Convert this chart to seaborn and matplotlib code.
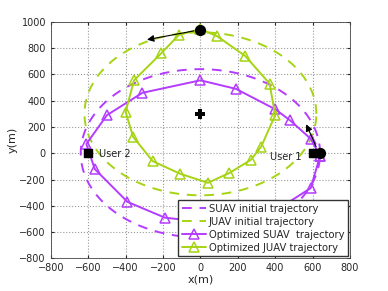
import numpy as np
import pandas as pd
import seaborn as sns
import matplotlib
matplotlib.use("Agg")
import matplotlib.pyplot as plt

# initial circular trajectories (center x, center y, radius)
suav_init = (0, 0, 640)
juav_init = (0, 300, 620)

# optimized trajectories
suav_x = [640, 590, 480, 400, 190, 0, -310, -500, -610, -565, -390, -190, 0, 220, 420, 590, 640]
suav_y = [-20, 110, 250, 335, 490, 555, 460, 290, 70, -120, -370, -490, -520, -500, -420, -265, -20]
juav_x = [0, 90, 240, 370, 400, 325, 270, 155, 40, -110, -255, -360, -400, -355, -210, -115, 0]
juav_y = [945, 890, 740, 530, 290, 50, -50, -150, -225, -155, -60, 125, 315, 555, 760, 900, 945]

users_x = [600, -600]
users_y = [0, 0]
user_names = ["User 1", "User 2"]
start_x = [640, 0]
start_y = [0, 940]

purple = "#b43cff"
green = "#a6d414"

sns.set_style("ticks")
plt.rcParams["font.family"] = ["DejaVu Sans"]

fig = plt.figure(figsize=(3.88, 2.91), dpi=100)
ax = fig.add_axes([0.131, 0.112, 0.771, 0.813])

theta = np.linspace(0, 2 * np.pi, 200)
for (cx, cy, r), col, lab in [(suav_init, purple, "SUAV initial trajectory"),
                              (juav_init, green, "JUAV initial trajectory")]:
    df = pd.DataFrame({"x": cx + r * np.cos(theta), "y": cy + r * np.sin(theta)})
    sns.lineplot(data=df, x="x", y="y", sort=False, estimator=None, ax=ax,
                 color=col, lw=1.4, dashes=False, label=lab)
    ax.lines[-1].set_dashes([5, 4])

sns.lineplot(x=suav_x, y=suav_y, sort=False, estimator=None, ax=ax, color=purple,
             lw=1.4, marker="^", markersize=7, markerfacecolor="none",
             markeredgecolor=purple, markeredgewidth=1.1, label="Optimized SUAV  trajectory")
sns.lineplot(x=juav_x, y=juav_y, sort=False, estimator=None, ax=ax, color=green,
             lw=1.4, marker="^", markersize=7, markerfacecolor="none",
             markeredgecolor=green, markeredgewidth=1.1, label="Optimized JUAV trajectory")

ax.scatter(users_x, users_y, marker="s", s=30, color="black", zorder=5)
ax.scatter(start_x, start_y, marker="o", s=50, color="black", zorder=5)
ax.scatter([0], [300], marker="P", s=50, color="black", zorder=5, linewidths=0)
ax.text(-540, -5, user_names[1], fontsize=7, va="center", color="#222222")
ax.text(540, -25, user_names[0], fontsize=7, va="center", ha="right", color="#222222")

ax.annotate("", xy=(-300, 860), xytext=(-20, 935),
            arrowprops=dict(arrowstyle="-|>", color="black", lw=0.8))
ax.annotate("", xy=(560, 240), xytext=(625, 30),
            arrowprops=dict(arrowstyle="-|>", color="black", lw=0.8))

ax.set_xlim(-800, 800)
ax.set_ylim(-800, 1000)
ax.set_xticks(range(-800, 801, 200))
ax.set_yticks(range(-800, 1001, 200))
ax.tick_params(labelsize=7, length=2, direction="in", top=True, right=True)
ax.grid(True, ls=":", color="#999999", lw=0.8)
for s in ax.spines.values():
    s.set_color("#444444")
    s.set_linewidth(0.6)
ax.set_xlabel("x(m)", fontsize=8, labelpad=1)
ax.set_ylabel("y(m)", fontsize=8, labelpad=1)

ax.legend(loc="lower right", fontsize=7.2, frameon=True, fancybox=False,
          edgecolor="#333333", framealpha=1, borderpad=0.35, labelspacing=0.3,
          handlelength=2.4, handletextpad=0.3, borderaxespad=0.2)

fig.savefig("out.png", dpi=100)
